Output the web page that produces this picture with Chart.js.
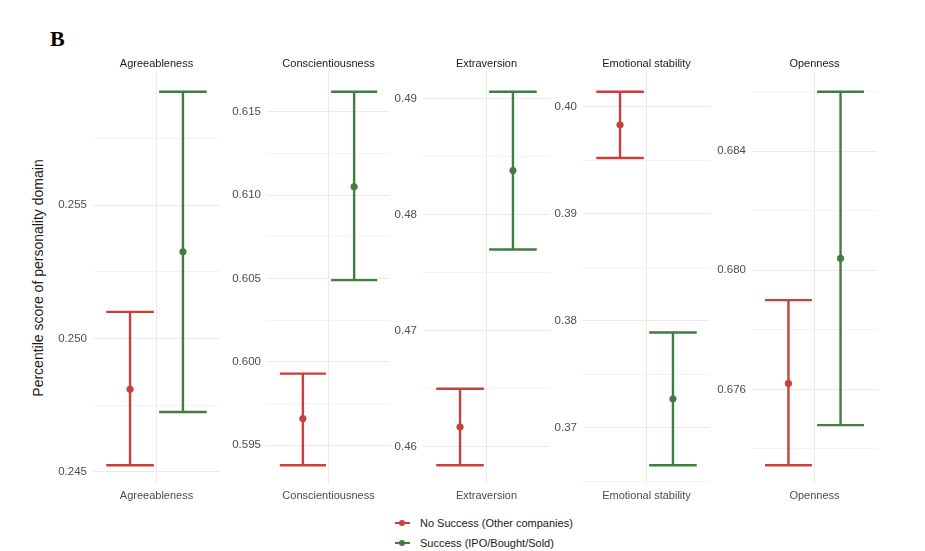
<!DOCTYPE html>
<html>
<head>
<meta charset="utf-8">
<script src="https://cdn.jsdelivr.net/npm/chart.js@4.4.1/dist/chart.umd.min.js"></script>
<style>
  body { margin: 0; background: #fff; width: 925px; height: 551px; position: relative; overflow: hidden;
         font-family: "Liberation Sans", Arial, sans-serif; }
  .panel { position: absolute; }
  #tag { position: absolute; left: 50px; top: 26px; font: bold 22px "Liberation Serif", "Times New Roman", serif; color: #000; }
  #ytitle { position: absolute; left: 38px; top: 278px; width: 300px; margin-left: -150px; margin-top: -9px;
            text-align: center; font-size: 14px; line-height: 18px; color: #1a1a1a; transform: rotate(-90deg); white-space: nowrap; }
  #legend { position: absolute; left: 395px; top: 514px; font-size: 11px; color: #1a1a1a; }
  .row { height: 20px; line-height: 18px; position: relative; padding-left: 25px; white-space: nowrap; }
  .key { position: absolute; left: 0; top: 8px; width: 15px; height: 2px; }
  .key i { position: absolute; left: 4px; top: -2px; width: 6px; height: 6px; border-radius: 50%; background: inherit; }
</style>
</head>
<body>
<div id="tag">B</div>
<div id="ytitle">Percentile score of personality domain</div>
<div class="panel" id="p0"><canvas></canvas></div>
<div class="panel" id="p1"><canvas></canvas></div>
<div class="panel" id="p2"><canvas></canvas></div>
<div class="panel" id="p3"><canvas></canvas></div>
<div class="panel" id="p4"><canvas></canvas></div>
<div id="legend">
  <div class="row"><span class="key" style="background:#c93f3b"><i></i></span>No Success (Other companies)</div>
  <div class="row"><span class="key" style="background:#417d41"><i></i></span>Success (IPO/Bought/Sold)</div>
</div>
<script>
// data
const categories = ['Agreeableness', 'Conscientiousness', 'Extraversion', 'Emotional stability', 'Openness'];
const seriesNames = ['No Success (Other companies)', 'Success (IPO/Bought/Sold)'];

const noSuccessMean = [0.2481, 0.5966, 0.4617, 0.3983, 0.6762];
const noSuccessLow  = [0.24525, 0.5938, 0.4584, 0.3952, 0.67345];
const noSuccessHigh = [0.2510, 0.5993, 0.4650, 0.4014, 0.6790];

const successMean = [0.25325, 0.6105, 0.4838, 0.3727, 0.6804];
const successLow  = [0.24725, 0.6049, 0.4770, 0.3665, 0.6748];
const successHigh = [0.25925, 0.6162, 0.4906, 0.3789, 0.6860];

const tickValues = [
  [0.245, 0.250, 0.255],
  [0.595, 0.600, 0.605, 0.610, 0.615],
  [0.46, 0.47, 0.48, 0.49],
  [0.37, 0.38, 0.39, 0.40],
  [0.676, 0.680, 0.684]
];
const tickLabels = [
  ['0.245', '0.250', '0.255'],
  ['0.595', '0.600', '0.605', '0.610', '0.615'],
  ['0.46', '0.47', '0.48', '0.49'],
  ['0.37', '0.38', '0.39', '0.40'],
  ['0.676', '0.680', '0.684']
];

// layout / style
const colors = ['#c93f3b', '#417d41'];
const plotX = [[93, 220], [267, 390], [423, 550], [583, 710], [752, 877]];
const AXIS_W = 44, TOP = 48, PLOT_TOP = 73, PLOT_BOTTOM = 484, XAXIS_H = 26;
const DODGE = 0.25, CAP = 0.225;
const textFont = { family: '"Liberation Sans", Arial, sans-serif', size: 11 };

function near(a, b) { return Math.abs(a - b) < 1e-9; }

// one error bar = stem + 2 caps, drawn as short lines
function errorBarSets(x, lo, hi, color) {
  const line = (pts) => ({ data: pts, showLine: true, borderColor: color, borderWidth: 2.4,
                           pointRadius: 0, fill: false });
  return [
    line([{ x: x, y: lo }, { x: x, y: hi }]),
    line([{ x: x - CAP, y: hi }, { x: x + CAP, y: hi }]),
    line([{ x: x - CAP, y: lo }, { x: x + CAP, y: lo }])
  ];
}

categories.forEach(function (cat, i) {
  const box = document.getElementById('p' + i);
  box.style.left = (plotX[i][0] - AXIS_W) + 'px';
  box.style.top = TOP + 'px';
  box.style.width = (plotX[i][1] - plotX[i][0] + AXIS_W) + 'px';
  box.style.height = (PLOT_BOTTOM + XAXIS_H - TOP) + 'px';

  const lows = [noSuccessLow[i], successLow[i]];
  const highs = [noSuccessHigh[i], successHigh[i]];
  const means = [noSuccessMean[i], successMean[i]];
  const lo = Math.min.apply(null, lows), hi = Math.max.apply(null, highs);
  const pad = (hi - lo) * 0.05;
  const yMin = lo - pad, yMax = hi + pad;

  // major ticks plus minor gridlines halfway between
  const majors = tickValues[i];
  const step = majors[1] - majors[0];
  const all = majors.slice();
  for (let v = majors[0] - step / 2; v <= yMax; v += step) {
    if (v >= yMin) all.push(v);
  }
  all.sort((a, b) => a - b);

  const datasets = [];
  [0, 1].forEach(function (s) {
    const x = 1 + (s === 0 ? -DODGE : DODGE);
    errorBarSets(x, lows[s], highs[s], colors[s]).forEach(d => datasets.push(d));
    datasets.push({ label: seriesNames[s], data: [{ x: x, y: means[s] }], pointRadius: 3.2,
                    pointBackgroundColor: colors[s], pointBorderColor: colors[s], showLine: false });
  });

  new Chart(box.querySelector('canvas'), {
    type: 'scatter',
    data: { datasets: datasets },
    options: {
      responsive: true,
      maintainAspectRatio: false,
      animation: false,
      layout: { padding: 0, autoPadding: false },
      plugins: {
        legend: { display: false },
        tooltip: { enabled: false }
      },
      scales: {
        x: {
          type: 'linear', min: 0.4, max: 1.6,
          afterBuildTicks: (sc) => { sc.ticks = [{ value: 1 }]; },
          afterFit: (sc) => { sc.height = XAXIS_H; },
          ticks: { callback: () => cat, color: '#4d4d4d', font: textFont, padding: 5, autoSkip: false, maxRotation: 0 },
          grid: { color: '#ebebeb', lineWidth: 1, drawTicks: false },
          border: { display: false }
        },
        // facet strip title, centred over the panel
        strip: {
          type: 'linear', position: 'top', min: 0.4, max: 1.6,
          afterBuildTicks: (sc) => { sc.ticks = [{ value: 1 }]; },
          afterFit: (sc) => { sc.height = PLOT_TOP - TOP; },
          ticks: { callback: () => cat, color: '#1a1a1a', font: textFont, padding: 2, autoSkip: false, maxRotation: 0 },
          grid: { display: false, drawTicks: false },
          border: { display: false }
        },
        y: {
          type: 'linear', min: yMin, max: yMax,
          afterBuildTicks: (sc) => { sc.ticks = all.map(v => ({ value: v })); },
          afterFit: (sc) => { sc.width = AXIS_W; },
          ticks: {
            autoSkip: false, color: '#4d4d4d', font: { family: textFont.family, size: 11.5 }, padding: 6,
            callback: (v) => { const k = majors.findIndex(m => near(m, v)); return k >= 0 ? tickLabels[i][k] : ''; }
          },
          grid: {
            drawTicks: false,
            color: (ctx) => (ctx.tick && majors.some(m => near(m, ctx.tick.value))) ? '#ebebeb' : '#f3f3f3',
            lineWidth: 1
          },
          border: { display: false }
        }
      }
    }
  });
});
</script>
</body>
</html>
